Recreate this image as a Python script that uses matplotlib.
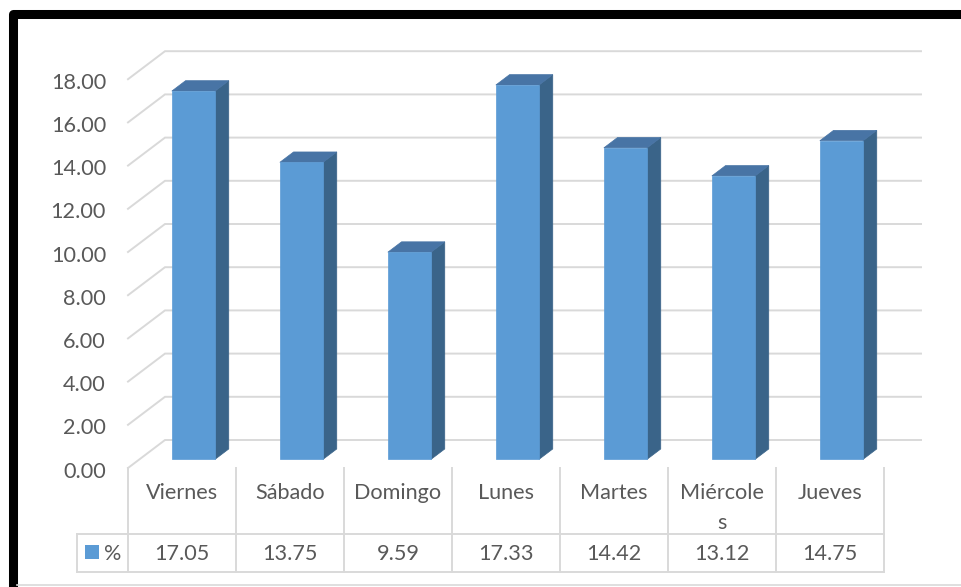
import textwrap
import matplotlib.pyplot as plt
from matplotlib.patches import Polygon, Rectangle
from matplotlib.lines import Line2D

plt.rcParams["font.family"] = ["Lato", "DejaVu Sans"]

categories = ["Viernes", "Sábado", "Domingo", "Lunes", "Martes", "Miércoles", "Jueves"]
values = [17.05, 13.75, 9.59, 17.33, 14.42, 13.12, 14.75]
series_name = "%"
y_ticks = [0, 2, 4, 6, 8, 10, 12, 14, 16, 18]

# --- layout (pixels) ---
W, H = 961, 587
SLOT_PX = 108          # width of one category column
UNIT_PX = 21.6         # pixels per value unit
LEFT_PX, BASE_PX = 128, 468   # front-left corner of the floor

DEPTH_X = 37 / SLOT_PX        # floor depth, in slot units
DEPTH_Y = 28 / UNIT_PX        # floor depth, in value units
BAR_W = 0.40
BAR_Z0 = 0.31                 # bar front face, fraction of floor depth
BAR_D = 0.37                  # bar depth, fraction of floor depth

FRONT = "#5B9BD5"
TOP = "#4874A5"
SIDE = "#3A6489"
GRID = "#D9D9D9"
TEXT = "#595959"
FS = 15.6


def px_x(p):
    return (p - LEFT_PX) / SLOT_PX


def px_y(p):
    return (BASE_PX - p) / UNIT_PX


fig = plt.figure(figsize=(W / 100, H / 100), dpi=100)
ax = fig.add_axes([0, 0, 1, 1])
ax.set_xlim(px_x(0), px_x(W))
ax.set_ylim(px_y(H), px_y(0))
ax.axis("off")

n = len(categories)

# walls: diagonal on the side wall + horizontal on the back wall
for v in y_ticks:
    ax.plot([0, DEPTH_X, n + DEPTH_X], [v, v + DEPTH_Y, v + DEPTH_Y],
            color=GRID, lw=1.4, zorder=1, solid_joinstyle="miter")
    ax.text(px_x(106), v - 9.5 / UNIT_PX, f"{v:.2f}", ha="right", va="baseline",
            fontsize=FS, color=TEXT)

# 3d columns
ox, oy = BAR_Z0 * DEPTH_X, BAR_Z0 * DEPTH_Y
dx, dy = BAR_D * DEPTH_X, BAR_D * DEPTH_Y
for i, v in enumerate(values):
    x0 = i + 0.5 - BAR_W / 2 + ox
    x1 = x0 + BAR_W
    y0, y1 = oy, v + oy
    ax.add_patch(Polygon([(x1, y0), (x1 + dx, y0 + dy), (x1 + dx, y1 + dy), (x1, y1)],
                         facecolor=SIDE, edgecolor=SIDE, lw=0.5, zorder=3))
    ax.add_patch(Polygon([(x0, y1), (x0 + dx, y1 + dy), (x1 + dx, y1 + dy), (x1, y1)],
                         facecolor=TOP, edgecolor=TOP, lw=0.5, zorder=3))
    ax.add_patch(Rectangle((x0, y0), BAR_W, v, facecolor=FRONT, edgecolor=FRONT,
                           lw=0.5, zorder=4))

# data table
row1, row2 = px_y(534), px_y(572)
legend_left = px_x(77)
for j in range(n + 1):
    ax.plot([j, j], [0, row2], color=GRID, lw=1.4, zorder=1)
ax.plot([legend_left, n], [row1, row1], color=GRID, lw=1.4, zorder=1)
ax.plot([legend_left, n], [row2, row2], color=GRID, lw=1.4, zorder=1)
ax.plot([legend_left, legend_left], [row1, row2], color=GRID, lw=1.4, zorder=1)

for i, (c, v) in enumerate(zip(categories, values)):
    for k, line in enumerate(textwrap.wrap(c, 8)):
        ax.text(i + 0.5, px_y(499 + 30 * k), line, ha="center", va="baseline",
                fontsize=FS, color=TEXT)
    ax.text(i + 0.5, px_y(560), f"{v:.2f}", ha="center", va="baseline",
            fontsize=FS, color=TEXT)

ax.add_patch(Rectangle((px_x(85), px_y(559)), 14 / SLOT_PX, 14 / UNIT_PX,
                       facecolor=FRONT, edgecolor="none", zorder=4))
ax.text(px_x(113), px_y(560), series_name, ha="center", va="baseline",
        fontsize=FS, color=TEXT)

# chart frame
fig.add_artist(Line2D([12.5 / W, 12.5 / W, 1], [0, 1 - 14 / H, 1 - 14 / H],
                      color="black", lw=6.5, solid_joinstyle="round"))
fig.add_artist(Line2D([17 / W, 1], [2 / H, 2 / H], color=GRID, lw=1.2))

fig.savefig("out.png", dpi=100)
